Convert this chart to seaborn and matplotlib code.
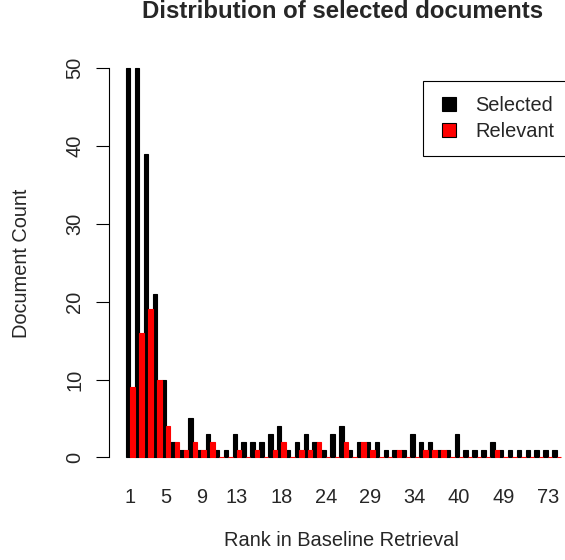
import pandas as pd
import seaborn as sns
import matplotlib.pyplot as plt
from matplotlib.lines import Line2D

# rank labels of the 49 groups (only some are printed on the axis)
ranks = [1, 2, 3, 4, 5, 6, 7, 8, 9, 10, 11, 12, 13,
         14, 15, 16, 17, 18, 19, 20, 21, 22, 24,
         25, 26, 27, 28, 29, 30, 31, 32, 33, 34,
         35, 36, 37, 38, 40, 41, 43, 45, 47, 49,
         52, 56, 60, 66, 73, 81]
selected = [50, 50, 39, 21, 10, 2, 1, 5, 1, 3, 1, 1, 3,
            2, 2, 2, 3, 4, 1, 2, 3, 2, 1,
            3, 4, 1, 2, 2, 2, 1, 1, 1, 3,
            2, 2, 1, 1, 3, 1, 1, 1, 2, 1,
            1, 1, 1, 1, 1, 1]
relevant = [9, 16, 19, 10, 4, 2, 1, 2, 1, 2, 0, 0, 1,
            0, 1, 0, 1, 2, 0, 1, 1, 2, 0,
            0, 2, 0, 2, 1, 0, 0, 1, 0, 0,
            1, 1, 1, 0, 0, 0, 0, 0, 1, 0,
            0, 0, 0, 0, 0, 0]
shown_ticks = ["1", "5", "9", "13", "18", "24", "29", "34", "40", "49", "73"]
y_ticks = [0, 10, 20, 30, 40, 50]

rank_labels = [str(r) for r in ranks]
df = pd.DataFrame({
    "rank": rank_labels * 2,
    "count": selected + relevant,
    "kind": ["Selected"] * len(ranks) + ["Relevant"] * len(ranks),
})

sns.set_style("white")
plt.rcParams["font.family"] = ["Liberation Sans", "DejaVu Sans"]
fs = 14.4

W, H = 565, 560
fig = plt.figure(figsize=(W / 100, H / 100), dpi=100)
# axes placed in pixel terms of the reference
left, right, top, bottom = 109, 565, 52.7, 472.9
ax = fig.add_axes([left / W, 1 - bottom / H, (right - left) / W, (bottom - top) / H])

colors = {"Selected": "black", "Relevant": "red"}
sns.barplot(data=df, x="rank", y="count", hue="kind", order=rank_labels,
            hue_order=["Selected", "Relevant"], palette=colors, width=1.0,
            gap=0, dodge=True, errorbar=None, saturation=1, legend=False, ax=ax)
for p in ax.patches:
    p.set_edgecolor(p.get_facecolor())
    p.set_linewidth(0.8)

px = 8.88  # pixels per group
ax.set_xlim(-0.5 - (126 - left) / px, -0.5 + (right - 126) / px)
ax.set_ylim(-2, 52)

pos = [rank_labels.index(t) for t in shown_ticks]
ax.set_xticks(pos)
ax.set_xticklabels(shown_ticks, fontsize=fs)
ax.tick_params(axis="x", length=0, pad=10.8)
ax.set_yticks(y_ticks)
ax.set_yticklabels([str(v) for v in y_ticks], fontsize=fs, rotation=90, va="center")
ax.tick_params(axis="y", left=True, length=9.4, width=0.8, pad=8.3, color="black")
ax.set_xlabel("")
ax.set_ylabel("")

for s in ["top", "right", "bottom"]:
    ax.spines[s].set_visible(False)
ax.spines["left"].set_bounds(0, 50)
ax.spines["left"].set_color("black")
ax.spines["left"].set_linewidth(0.8)

fig.text(343 / W, 1 - 12 / H, "Distribution of selected documents",
         ha="center", va="center", fontsize=17.3, fontweight="bold")
fig.text(341 / W, 1 - 540 / H, "Rank in Baseline Retrieval",
         ha="center", va="center", fontsize=fs)
fig.text(22 / W, 1 - 263 / H, "Document Count", rotation=90,
         ha="center", va="center", fontsize=fs)

handles = [Line2D([], [], linestyle="none", marker="s", markersize=9.4,
                  markerfacecolor=c, markeredgecolor="black", markeredgewidth=0.8)
           for c in ["black", "red"]]
leg = fig.legend(handles, ["Selected", "Relevant"], loc="upper left",
                 bbox_to_anchor=(423 / W, 1 - 81 / H), borderaxespad=0,
                 fancybox=False, framealpha=1, edgecolor="black",
                 handlelength=1.1, handleheight=0.7, handletextpad=0.75,
                 borderpad=0.75, labelspacing=0.33, fontsize=fs)
leg.get_frame().set_linewidth(0.8)

fig.savefig("out.png", dpi=100)
